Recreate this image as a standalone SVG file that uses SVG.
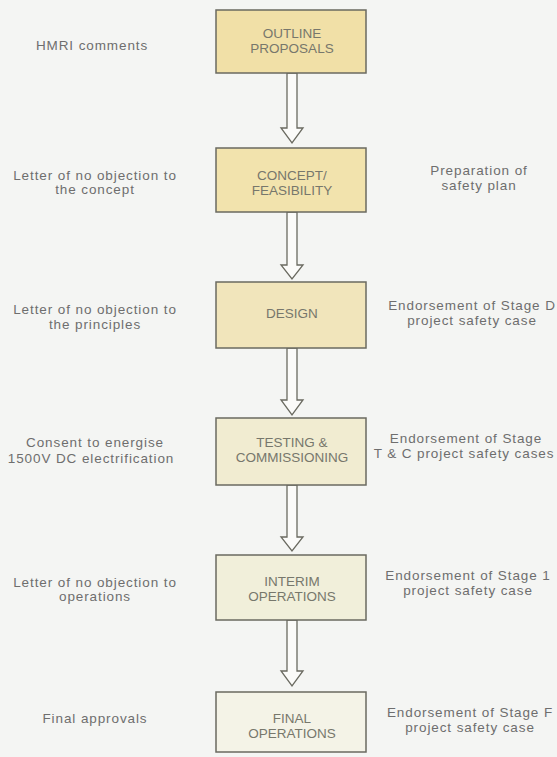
<svg xmlns="http://www.w3.org/2000/svg" width="557" height="757" viewBox="0 0 557 757">
<style>
.box{stroke:#6a6a60;stroke-width:1.5}
.bt{font-family:"Liberation Sans",Arial,sans-serif;font-size:13.5px;fill:#77776c;text-anchor:middle}
.st{font-family:"Liberation Sans",Arial,sans-serif;font-size:13.5px;fill:#6e6e6e;text-anchor:middle;letter-spacing:0.9px}
.arr{fill:#fbfbf9;stroke:#6a6a60;stroke-width:1.3;stroke-linejoin:miter}
</style>
<rect width="557" height="757" fill="#f4f5f3"/>
<g id="connectors">
<path class="arr" d="M287,73 V128 H281 L292,143 L303,128 H297 V73 Z"/>
<path class="arr" d="M287,212 V265 H281 L292,279 L303,265 H297 V212 Z"/>
<path class="arr" d="M287,348 V400 H281 L292,415 L303,400 H297 V348 Z"/>
<path class="arr" d="M287,485 V537 H281 L292,551 L303,537 H297 V485 Z"/>
<path class="arr" d="M287,620 V671 H281 L292,686 L303,671 H297 V620 Z"/>
</g>
<g id="outline">
<rect class="box" x="216" y="10" width="150" height="63" fill="#f1e0a7"/>
<text class="bt" x="292" y="38">OUTLINE</text>
<text class="bt" x="292" y="53">PROPOSALS</text>
</g>
<g id="concept">
<rect class="box" x="216" y="148" width="150" height="64" fill="#f2e3ad"/>
<text class="bt" x="292" y="180">CONCEPT/</text>
<text class="bt" x="292" y="195">FEASIBILITY</text>
</g>
<g id="design">
<rect class="box" x="216" y="282" width="150" height="66" fill="#f1e5bb"/>
<text class="bt" x="292" y="318">DESIGN</text>
</g>
<g id="testing">
<rect class="box" x="216" y="418" width="150" height="67" fill="#f1ecd1"/>
<text class="bt" x="292" y="447">TESTING &amp;</text>
<text class="bt" x="292" y="462">COMMISSIONING</text>
</g>
<g id="interim">
<rect class="box" x="216" y="555" width="150" height="65" fill="#f1efda"/>
<text class="bt" x="292" y="586">INTERIM</text>
<text class="bt" x="292" y="601">OPERATIONS</text>
</g>
<g id="final">
<rect class="box" x="216" y="692" width="150" height="60" fill="#f4f3e7"/>
<text class="bt" x="292" y="723">FINAL</text>
<text class="bt" x="292" y="738">OPERATIONS</text>
</g>
<g id="left-labels">
<text class="st" x="92" y="50">HMRI comments</text>
<text class="st" x="95" y="180">Letter of no objection to</text>
<text class="st" x="95" y="194">the concept</text>
<text class="st" x="95" y="314">Letter of no objection to</text>
<text class="st" x="95" y="329">the principles</text>
<text class="st" x="95" y="447">Consent to energise</text>
<text class="st" x="91" y="463">1500V DC electrification</text>
<text class="st" x="95" y="587">Letter of no objection to</text>
<text class="st" x="95" y="601">operations</text>
<text class="st" x="95" y="723">Final approvals</text>
</g>
<g id="right-labels">
<text class="st" x="479" y="175">Preparation of</text>
<text class="st" x="479" y="190">safety plan</text>
<text class="st" x="472" y="310">Endorsement of Stage D</text>
<text class="st" x="472" y="325">project safety case</text>
<text class="st" x="466" y="443">Endorsement of Stage</text>
<text class="st" x="464" y="458">T &amp; C project safety cases</text>
<text class="st" x="468" y="580">Endorsement of Stage 1</text>
<text class="st" x="468" y="595">project safety case</text>
<text class="st" x="470" y="717">Endorsement of Stage F</text>
<text class="st" x="470" y="732">project safety case</text>
</g>
</svg>
